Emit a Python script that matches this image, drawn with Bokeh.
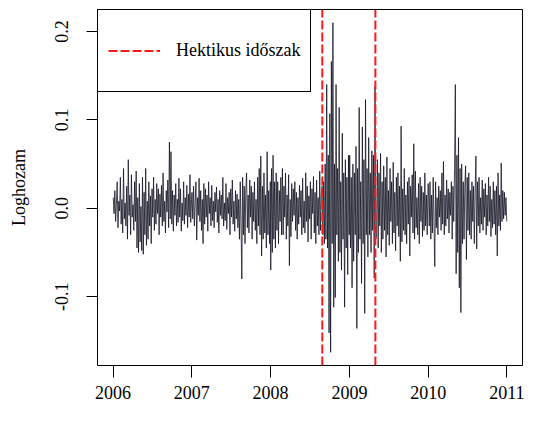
import pandas as pd
from bokeh.plotting import figure
from bokeh.models import (FixedTicker, PrintfTickFormatter, DatetimeTickFormatter,
                          Range1d, Legend, LegendItem)
from bokeh.embed import file_html
from bokeh.resources import INLINE

# ---- data (log returns, roughly 100 samples per year) ----
years = [2006, 2007, 2008, 2009, 2010]

r2006 = [0.012, -0.006, 0.020, -0.015, 0.004, 0.030, -0.022, 0.008, -0.003, 0.035, -0.018, 0.010, -0.028, 0.045, -0.012, 0.006,
         -0.020, 0.025, -0.035, 0.055, -0.008, 0.015, -0.030, 0.038, -0.010, 0.004, -0.025, 0.030, -0.015, 0.042,
         -0.045, 0.012, -0.050, 0.028, -0.038, 0.002, -0.048, 0.035, -0.052, 0.018, -0.030, 0.045, -0.042, 0.008, -0.035, 0.030, -0.020, 0.014, -0.040, 0.022, -0.010,
         0.035, -0.025, 0.010, -0.018, 0.028, -0.006, 0.022, -0.030, 0.016, -0.010, 0.026, -0.020, 0.040, -0.015, 0.008, -0.028, 0.020, -0.004, 0.032, -0.022, 0.075, -0.012, 0.064, -0.018, 0.020,
         -0.026, 0.015, -0.008, 0.028, -0.020, 0.010, -0.016, 0.034, -0.010, 0.022, -0.026, 0.006, -0.014, 0.030, -0.018, 0.012, -0.008, 0.026, -0.022, 0.016, -0.010, 0.038, -0.016, 0.010]

r2007 = [0.018, -0.012, 0.025, -0.020, 0.006, 0.030, -0.036, 0.012, -0.008, 0.034, -0.015, 0.020, -0.025, 0.010, -0.040, 0.028,
         -0.018, 0.022, -0.010, 0.015, -0.026, 0.030, -0.006, 0.012, -0.020, 0.026, -0.014, 0.008, -0.022, 0.018, -0.004, 0.024, -0.016, 0.010, -0.028, 0.020,
         -0.008, 0.015, -0.012, 0.035, -0.020, 0.006, -0.014, 0.028, -0.024, 0.012, -0.006, 0.018, -0.030, 0.022, -0.010, 0.032, -0.018, 0.008, -0.026, 0.020,
         -0.012, 0.016, -0.022, 0.010,
         -0.035, 0.030, -0.020, -0.080, 0.035, -0.030, 0.025, -0.040, 0.020,
         0.040, -0.022, 0.015, -0.028, 0.032, -0.010, 0.025, -0.035, 0.018, -0.015, 0.030, -0.025, 0.010, -0.040, 0.035, -0.020,
         0.045, -0.030, 0.059, -0.054, 0.025, -0.035, 0.040, -0.028, 0.015, -0.045, 0.064, -0.030, 0.020, -0.040, 0.030]

r2008 = [-0.070, 0.045, -0.050, 0.060, -0.035, 0.030, -0.045, 0.040,
         -0.025, 0.030, -0.040, 0.020, -0.015, 0.035, -0.030, 0.045, -0.030, 0.025,
         -0.010, 0.040, -0.035, 0.015, -0.020, 0.038, -0.065, 0.010, -0.032, 0.028,
         -0.015, 0.022, -0.008, 0.030, -0.025, 0.018, -0.035, 0.012, -0.018, 0.026,
         -0.010, 0.020, -0.030, 0.034, -0.022, 0.008, -0.028, 0.040, -0.015, 0.025,
         -0.038, 0.014, -0.012, 0.030, -0.035, 0.022, -0.006, 0.036, -0.028, 0.018,
         -0.040, 0.032, -0.020, 0.012, -0.030, 0.042, -0.025, 0.015,
         0.025, -0.030, 0.030, -0.040, 0.050, -0.035, 0.140, -0.045, 0.060, -0.141, 0.107, -0.163,
         0.166, -0.040, 0.210, -0.112, 0.050, -0.101, 0.140, -0.030, 0.045, -0.060, 0.114, -0.050,
         0.030, -0.070, 0.085, -0.035, 0.040, -0.112, 0.055, -0.045, 0.035, -0.075, 0.060, -0.030]

r2009 = [0.060, -0.045, 0.035, -0.090, 0.050, -0.060, 0.040, -0.030, 0.070, -0.136, 0.045, -0.050,
         0.114, -0.035, 0.030, -0.085, 0.092, -0.040, 0.055, -0.119, 0.123, -0.030, 0.045, -0.055,
         0.080, -0.030, 0.040, -0.050, 0.065, -0.025, 0.060, -0.079, 0.138, -0.035,
         -0.030, 0.055, -0.045, 0.040, -0.020, 0.062, -0.050, 0.030, -0.035, 0.048,
         -0.025, 0.035, -0.055, 0.058, -0.030, 0.020, -0.042, 0.045, -0.015, 0.030,
         -0.040, 0.052, -0.028, 0.018, -0.048, 0.035, -0.020, 0.040, -0.032, 0.025,
         -0.060, 0.093, -0.038, 0.022, -0.025, 0.045, -0.030, 0.015, -0.040, 0.030,
         -0.018, 0.035, -0.054, 0.025, -0.010, 0.038, -0.028, 0.073, -0.035, 0.042,
         -0.022, 0.012, -0.030, 0.028, -0.040, 0.035, -0.015, 0.025, -0.032, 0.018,
         -0.025, 0.040, -0.020, 0.015, -0.030, 0.028]

r2010 = [0.025, -0.020, 0.030, -0.035, 0.015, -0.028, 0.035, -0.015, -0.066, 0.030,
         -0.022, 0.012, -0.030, 0.025, -0.010, 0.020, -0.025, 0.040, -0.018, 0.053,
         -0.030, 0.015, -0.020, 0.032, -0.012, 0.022, -0.028, 0.018, -0.008, 0.030,
         -0.035, 0.025, -0.015,
         0.045, 0.140, -0.074, 0.060, -0.050, 0.080, -0.090, 0.045, -0.118, 0.050,
         -0.040, 0.030, -0.035, 0.025, 0.048, -0.058, 0.035, -0.025, 0.040, -0.030,
         0.020, -0.035, 0.030, -0.015, 0.025, -0.040, 0.018, 0.059, -0.046, 0.030,
         -0.020, 0.035, -0.028, 0.012, -0.018, 0.032, -0.025, 0.022, -0.010, 0.028,
         -0.030, 0.015, -0.020, 0.035, -0.015, 0.025, -0.032, 0.010, -0.022, 0.030,
         -0.018, 0.020, -0.030, 0.025, -0.054, 0.040, -0.020, 0.015, -0.025, 0.051,
         -0.015, 0.020, -0.012, 0.018, -0.008, 0.012, -0.015]

yearly_returns = [r2006, r2007, r2008, r2009, r2010]

hectic_start = "2008-08-28"
hectic_end = "2009-05-01"
legend_label = "Hektikus időszak"
y_label = "Loghozam"
x_tick_years = [2006, 2007, 2008, 2009, 2010, 2011]
y_ticks = [-0.1, 0.0, 0.1, 0.2]

# ---- assemble series ----
dates = []
values = []
for yr, vals in zip(years, yearly_returns):
    d = pd.date_range(f"{yr}-01-02", f"{yr}-12-31", periods=len(vals))
    dates.extend(list(d))
    values.extend(vals)
dates = pd.DatetimeIndex(dates)

def ms(ts):
    return pd.Timestamp(ts).value / 1e6

# R-style 4% axis padding
t0, t1 = ms(dates[0]), ms(dates[-1])
xpad = 0.04 * (t1 - t0)
vmin, vmax = min(values), max(values)
ypad = 0.04 * (vmax - vmin)
x_range = Range1d(t0 - xpad, t1 + xpad)
y_range = Range1d(vmin - ypad, vmax + ypad)

SERIF = "Liberation Serif"

p = figure(width=524, height=407, x_axis_type="datetime", output_backend="svg",
           toolbar_location=None, x_range=x_range, y_range=y_range,
           min_border_left=97, min_border_right=2, min_border_top=9, min_border_bottom=42)
p.xgrid.visible = False
p.ygrid.visible = False
p.outline_line_color = "black"
p.outline_line_width = 1
p.outline_line_alpha = 1
p.background_fill_color = "white"
p.border_fill_color = "white"

p.line(dates, values, line_color="#0b0b1c", line_width=0.75)

red = p.multi_line(xs=[[ms(hectic_start), ms(hectic_start)], [ms(hectic_end), ms(hectic_end)]],
                   ys=[[y_range.start, y_range.end], [y_range.start, y_range.end]],
                   line_color="#ff1a1a", line_width=2, line_dash="9 3")

legend = Legend(items=[LegendItem(label=legend_label, renderers=[red])],
                location="top_left", margin=0, padding=10, spacing=0,
                glyph_width=52, glyph_height=61, label_height=61, label_standoff=16,
                label_text_font=SERIF, label_text_font_size="18px", label_text_color="black",
                border_line_color="black", border_line_width=1, border_line_alpha=1,
                background_fill_color="white", background_fill_alpha=1)
p.add_layout(legend)

xa = p.xaxis[0]
xa.ticker = FixedTicker(ticks=[ms(f"{y}-01-01") for y in x_tick_years])
xa.formatter = DatetimeTickFormatter(years="%Y", months="%Y", days="%Y", hours="%Y",
                                     minutes="%Y", seconds="%Y", milliseconds="%Y",
                                     microseconds="%Y", minsec="%Y", hourmin="%Y")
xa.major_tick_out = 12
xa.major_label_standoff = 8

ya = p.yaxis[0]
ya.ticker = FixedTicker(ticks=y_ticks)
ya.formatter = PrintfTickFormatter(format="%.1f")
ya.major_tick_out = 11
ya.major_label_orientation = "vertical"
ya.major_label_standoff = 18
ya.axis_label = y_label
ya.axis_label_standoff = 24
ya.axis_label_text_font = SERIF
ya.axis_label_text_font_size = "18px"
ya.axis_label_text_font_style = "normal"
ya.axis_label_text_color = "black"

for ax in (xa, ya):
    ax.axis_line_color = None
    ax.major_tick_in = 0
    ax.minor_tick_line_color = None
    ax.major_tick_line_color = "black"
    ax.major_tick_line_width = 1
    ax.major_label_text_font = SERIF
    ax.major_label_text_font_size = "18px"
    ax.major_label_text_color = "black"

open("out.html", "w").write(file_html(p, INLINE))
